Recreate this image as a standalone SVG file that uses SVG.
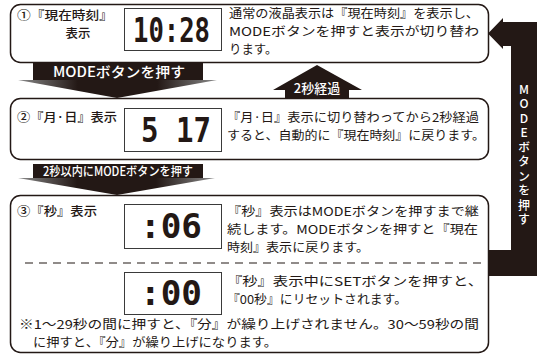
<svg xmlns="http://www.w3.org/2000/svg" width="537" height="356" viewBox="0 0 537 356">
<style>
.t{font-family:"Noto Sans CJK JP","Noto Sans",sans-serif;fill:#231815;font-size:12.4px}
.lb{font-family:"Noto Sans CJK JP","Noto Sans",sans-serif;fill:#231815;font-size:12.4px;font-weight:500}
.w{font-family:"Noto Sans CJK JP","Noto Sans",sans-serif;fill:#fff;font-weight:500}
.box{fill:#fff;stroke:#231815;stroke-width:1.5}
.lcd{fill:#fff;stroke:#3a3a3a;stroke-width:1}
.seg{font-family:"DejaVu Sans Mono",monospace;font-weight:bold;font-size:33px;fill:#231815}
.dk{fill:#231815}
.vt{writing-mode:vertical-rl;text-orientation:upright;letter-spacing:2.5px}
</style>
<defs>
<linearGradient id="tri" x1="0" y1="0" x2="1" y2="0">
<stop offset="0" stop-color="#8a8a8a"/>
<stop offset="0.3" stop-color="#231815"/>
<stop offset="0.7" stop-color="#231815"/>
<stop offset="1" stop-color="#8a8a8a"/>
</linearGradient>
</defs>

<g id="node1">
<rect class="box" x="10.5" y="4.5" width="478" height="58" rx="10"/>
<text class="lb" x="17" y="20" textLength="96" lengthAdjust="spacingAndGlyphs">①『現在時刻』</text>
<text class="lb" x="78" y="38" text-anchor="middle">表示</text>
<rect class="lcd" x="124.5" y="8.5" width="97" height="42"/>
<text class="seg" x="133" y="42" textLength="77" lengthAdjust="spacingAndGlyphs">10:28</text>
<text class="t" x="229" y="18" textLength="250" lengthAdjust="spacingAndGlyphs">通常の液晶表示は『現在時刻』を表示し、</text>
<text class="t" x="229" y="36" textLength="250" lengthAdjust="spacingAndGlyphs">MODEボタンを押すと表示が切り替わ</text>
<text class="t" x="229" y="54">ります。</text>
</g>

<g id="node2">
<rect class="box" x="10.5" y="98.5" width="478" height="61" rx="10"/>
<text class="lb" x="17" y="122" textLength="100" lengthAdjust="spacingAndGlyphs">②『月·日』表示</text>
<rect class="lcd" x="124.5" y="108.5" width="97" height="43"/>
<text class="seg" x="141" y="142" textLength="70" lengthAdjust="spacingAndGlyphs" xml:space="preserve">5 17</text>
<text class="t" x="227" y="122" textLength="252" lengthAdjust="spacingAndGlyphs">『月·日』表示に切り替わってから2秒経過</text>
<text class="t" x="227" y="140" textLength="258" lengthAdjust="spacingAndGlyphs">すると、自動的に『現在時刻』に戻ります。</text>
</g>

<g id="node3">
<rect class="box" x="10.5" y="195.5" width="478" height="157" rx="10"/>
<text class="lb" x="17" y="216" textLength="80" lengthAdjust="spacingAndGlyphs">③『秒』表示</text>
<rect class="lcd" x="124.5" y="204.5" width="97" height="44"/>
<text class="seg" x="140" y="238" textLength="62" lengthAdjust="spacingAndGlyphs">:06</text>
<text class="t" x="227" y="216" textLength="252" lengthAdjust="spacingAndGlyphs">『秒』表示はMODEボタンを押すまで継</text>
<text class="t" x="227" y="234" textLength="251" lengthAdjust="spacingAndGlyphs">続します。MODEボタンを押すと『現在</text>
<text class="t" x="227" y="252" textLength="142" lengthAdjust="spacingAndGlyphs">時刻』表示に戻ります。</text>
<line x1="25" y1="263" x2="487" y2="263" stroke="#231815" stroke-width="1.2" stroke-dasharray="8 6"/>
<rect class="lcd" x="124.5" y="272.5" width="97" height="42"/>
<text class="seg" x="140" y="305" textLength="62" lengthAdjust="spacingAndGlyphs">:00</text>
<text class="t" x="227" y="286" textLength="256" lengthAdjust="spacingAndGlyphs">『秒』表示中にSETボタンを押すと、</text>
<text class="t" x="227" y="304" textLength="180" lengthAdjust="spacingAndGlyphs">『00秒』にリセットされます。</text>
<text class="t" x="19" y="329" textLength="460" lengthAdjust="spacingAndGlyphs">※1〜29秒の間に押すと、『分』が繰り上げされません。30〜59秒の間</text>
<text class="t" x="33" y="347" textLength="244" lengthAdjust="spacingAndGlyphs">に押すと、『分』が繰り上げになります。</text>
</g>

<g id="connectors">
<g id="arrow-mode-1">
<rect class="dk" x="33" y="63" width="170" height="17"/>
<polygon points="18,80 217,80 117,98" fill="url(#tri)"/>
<text class="w" x="53" y="77" font-size="14" textLength="132" lengthAdjust="spacingAndGlyphs">MODEボタンを押す</text>
</g>
<g id="arrow-2sec">
<path class="dk" d="M317,65 L362,90 L349,90 L349,98 L285,98 L285,90 L273,90 Z"/>
<text class="w" x="317" y="93" font-size="13" text-anchor="middle">2秒経過</text>
</g>
<g id="arrow-mode-2">
<rect class="dk" x="33" y="164" width="170" height="14"/>
<polygon points="18,178 215,178 117,195" fill="url(#tri)"/>
<text class="w" x="43" y="176" font-size="12.5" textLength="150" lengthAdjust="spacingAndGlyphs">2秒以内にMODEボタンを押す</text>
</g>
<g id="arrow-return">
<path class="dk" d="M488,33.5 L503,18 L503,22 L537,22 L537,276 L488,276 L488,250 L511,250 L511,46 L503,46 L503,49 Z"/>
<text class="w vt" x="524" y="83" font-size="12">MODEボタンを押す</text>
</g>
</g>
</svg>
